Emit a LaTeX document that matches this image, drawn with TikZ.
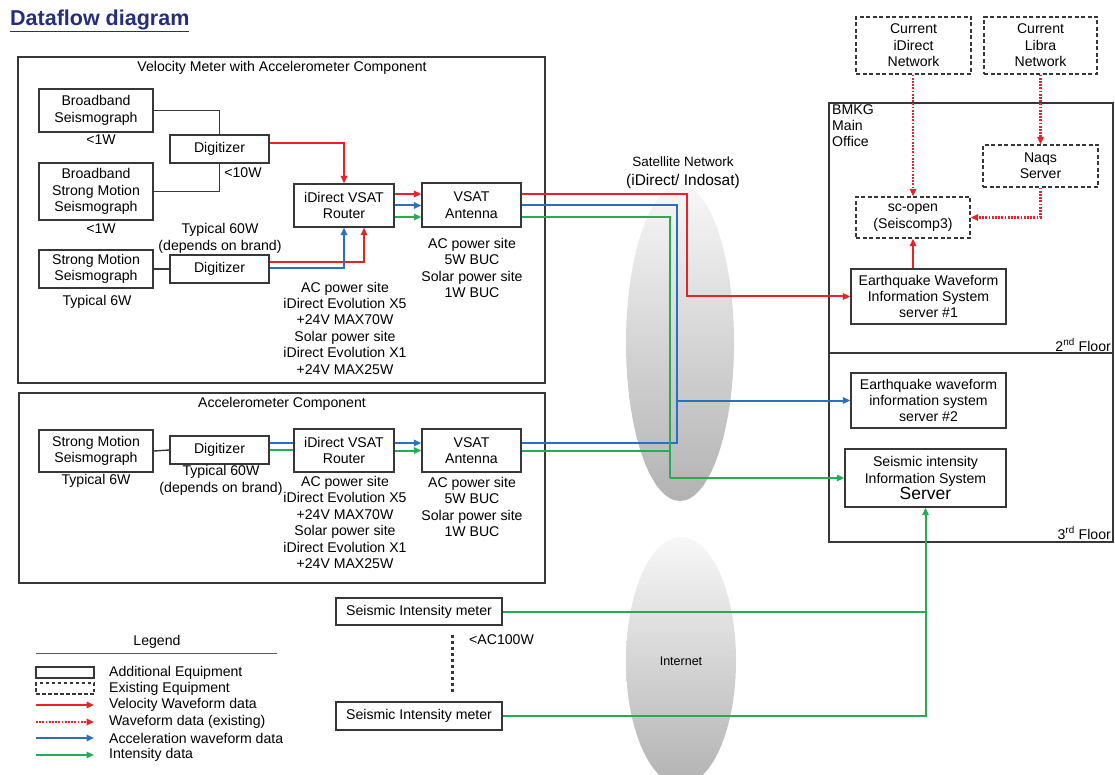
\documentclass[tikz,border=0pt]{standalone}
\usepackage{fontspec}
\setmainfont{Liberation Sans}
\usetikzlibrary{arrows.meta,calc,shapes.geometric}

\definecolor{velred}{RGB}{234,34,40}
\definecolor{accblue}{RGB}{42,112,192}
\definecolor{intgreen}{RGB}{38,172,84}
\definecolor{titleblue}{RGB}{36,46,122}
\definecolor{boxc}{RGB}{55,55,55}

\newcommand\fsz[2]{\fontsize{#1pt}{#2pt}\selectfont}

\begin{document}
\begin{tikzpicture}[x=1pt,y=-1pt,
  box/.style={draw=boxc, line width=1.4pt, fill=white, align=center, inner sep=0pt, font=\fsz{14.1}{16.4}},
  exbox/.style={box, dash pattern=on 4pt off 2.5pt},
  frame/.style={draw=boxc, line width=1.4pt, inner sep=0pt},
  note/.style={align=center, inner sep=0pt, font=\fsz{14.1}{16.4}},
  link/.style={draw=boxc, line width=1.4pt},
  vel/.style={draw=velred, line width=2pt},
  velx/.style={draw=velred, line width=2.4pt, dash pattern=on 1.8pt off 1.4pt},
  acc/.style={draw=accblue, line width=2pt},
  inten/.style={draw=intgreen, line width=2pt},
  tip/.style={-{Triangle[length=7.5pt,width=6.5pt]}},
  cloud/.style={ellipse, inner sep=0pt, shading=axis, top color=gray!6, middle color=gray!45, bottom color=gray!60}]

\useasboundingbox (0,0) rectangle (1115,775);

% title
\node[anchor=west, inner sep=0pt, text=titleblue, font=\fsz{21.5}{23}\bfseries] (title) at (10,21) {\underline{Dataflow diagram}};

% network clouds
\node[cloud, minimum width=108pt, minimum height=316pt] (sat) at (680,343) {};
\begin{scope}
  \clip (0,0) rectangle (1115,775);
  \node[cloud, minimum width=110pt, minimum height=248pt] (net) at (681,661) {};
\end{scope}
\node[note, font=\fsz{12.5}{14}] (netlbl) at (681,661) {Internet};
\node[note, font=\fsz{13.5}{15}] (satlbl1) at (683,162) {Satellite Network};
\node[note, font=\fsz{15.5}{17}] (satlbl2) at (683,181) {(iDirect/ Indosat)};

% ---------------- velocity meter site ----------------
\node[frame, minimum width=527pt, minimum height=326pt] (velframe) at (281.5,220) {};
\node[note] (veltitle) at (282,67.5) {Velocity Meter with Accelerometer Component};

\node[box, minimum width=114pt, minimum height=43pt] (bb) at (96,110.5) {Broadband\\Seismograph};
\node[box, minimum width=99pt, minimum height=28pt] (dig1) at (219.5,149) {Digitizer};
\node[box, minimum width=114pt, minimum height=57pt] (bbsm) at (96,191.5) {Broadband\\Strong Motion\\Seismograph};
\node[box, minimum width=114pt, minimum height=38pt] (sm1) at (96,269) {Strong Motion\\Seismograph};
\node[box, minimum width=99pt, minimum height=28pt] (dig2) at (219.5,269) {Digitizer};
\node[box, minimum width=100pt, minimum height=43pt] (rt1) at (344,205.5) {iDirect VSAT\\Router};
\node[box, minimum width=99pt, minimum height=44pt] (ant1) at (471.5,205) {VSAT\\Antenna};

\node[note] (p1) at (101,140) {<1W};
\node[note] (p2) at (243,173) {<10W};
\node[note] (p3) at (101,229) {<1W};
\node[note] (p4) at (220,238.5) {Typical 60W\\(depends on brand)};
\node[note] (p5) at (97,302) {Typical 6W};
\node[note] (p6) at (345,328) {AC power site\\iDirect Evolution X5\\+24V MAX70W\\Solar power site\\iDirect Evolution X1\\+24V MAX25W};
\node[note] (p7) at (472,268) {AC power site\\5W BUC\\Solar power site\\1W BUC};

\draw[link] (bb.east) -| (dig1.north);
\draw[link] (bbsm.east) -| (dig1.south);
\draw[link] (sm1.east) -- (dig2.west);

\draw[vel, tip] ($(dig1.east)+(0,-6)$) -| (rt1.north);
\draw[vel, tip] ($(dig2.east)+(0,-7)$) -| ($(rt1.south)+(20,0)$);
\draw[acc, tip] ($(dig2.east)+(0,-1)$) -| (rt1.south);
\draw[vel, tip] ($(rt1.east)+(0,-11.5)$) -- ($(ant1.west)+(0,-11)$);
\draw[acc, tip] ($(rt1.east)+(0,0)$) -- ($(ant1.west)+(0,0.5)$);
\draw[inten, tip] ($(rt1.east)+(0,11.5)$) -- ($(ant1.west)+(0,12)$);

% ---------------- accelerometer site ----------------
\node[frame, minimum width=526pt, minimum height=190pt] (accframe) at (282,488) {};
\node[note] (acctitle) at (282,403.5) {Accelerometer Component};

\node[box, minimum width=114pt, minimum height=42pt] (sm2) at (96,451) {Strong Motion\\Seismograph};
\node[box, minimum width=99pt, minimum height=28pt] (dig3) at (219.5,450) {Digitizer};
\node[box, minimum width=100pt, minimum height=43pt] (rt2) at (344,450.5) {iDirect VSAT\\Router};
\node[box, minimum width=99pt, minimum height=43pt] (ant2) at (471.5,450.5) {VSAT\\Antenna};

\node[note] (q1) at (96,481) {Typical 6W};
\node[note] (q2) at (221,480.5) {Typical 60W\\(depends on brand)};
\node[note] (q3) at (345,522.5) {AC power site\\iDirect Evolution X5\\+24V MAX70W\\Solar power site\\iDirect Evolution X1\\+24V MAX25W};
\node[note] (q4) at (472,507) {AC power site\\5W BUC\\Solar power site\\1W BUC};

\draw[link] (sm2.east) -- (dig3.west);
\draw[acc] ($(dig3.east)+(0,-7)$) -- ($(rt2.west)+(0,-7.5)$);
\draw[inten] ($(dig3.east)+(0,0)$) -- ($(rt2.west)+(0,-0.5)$);
\draw[acc, tip] ($(rt2.east)+(0,-7.5)$) -- ($(ant2.west)+(0,-7.5)$);
\draw[inten, tip] ($(rt2.east)+(0,0)$) -- ($(ant2.west)+(0,0)$);

% ---------------- intensity meters ----------------
\node[box, minimum width=166pt, minimum height=27pt] (sim1) at (419,611.5) {Seismic Intensity meter};
\node[box, minimum width=166pt, minimum height=28pt] (sim2) at (419,716) {Seismic Intensity meter};
\coordinate (dt1) at (452,635);
\coordinate (dt2) at (452,693);
\draw[draw=boxc, line width=3pt, dash pattern=on 2.6pt off 3.4pt] (dt1) -- (dt2);
\node[note, anchor=west] (acw) at (469,640) {<AC100W};

% ---------------- main office ----------------
\node[exbox, minimum width=115pt, minimum height=57pt] (idn) at (913.5,45.5) {Current\\iDirect\\Network};
\node[exbox, minimum width=113pt, minimum height=57pt] (lbn) at (1040.5,45.5) {Current\\Libra\\Network};

\node[frame, minimum width=284pt, minimum height=439pt] (bmkg) at (971,322.5) {};
\coordinate (fl) at (829,353);
\draw[link] (fl) -- (fl -| bmkg.east);
\node[note, align=left, anchor=north west] (bmkgl) at (832,104) {BMKG\\Main\\Office};
\node[note, anchor=east] (fl2) at (1111,345) {2\textsuperscript{nd} Floor};
\node[note, anchor=east] (fl3) at (1111,533) {3\textsuperscript{rd} Floor};

\node[exbox, minimum width=115pt, minimum height=42pt] (naqs) at (1040.5,166) {Naqs\\Server};
\node[exbox, minimum width=114pt, minimum height=41pt] (scop) at (913,217.5) {sc-open\\(Seiscomp3)};
\node[box, minimum width=155pt, minimum height=55pt] (ew1) at (928.5,296.5) {Earthquake Waveform\\Information System\\server \#1};
\node[box, minimum width=155pt, minimum height=55pt] (ew2) at (928.5,400.5) {Earthquake waveform\\information system\\server \#2};
\node[box, minimum width=161pt, minimum height=58pt] (siis) at (925.5,478) {Seismic intensity\\Information System\\{\fsz{17.5}{18}Server}};

\draw[velx, tip] (idn.south -| scop.north) -- (scop.north);
\draw[velx, tip] (lbn.south) -- (naqs.north);
\draw[velx, tip] (naqs.south) |- (scop.east);
\draw[vel, tip] (scop.south |- ew1.north) -- (scop.south);

% ---------------- data routes ----------------
\coordinate (rbus) at (687,250);
\coordinate (bbus) at (677,400.5);
\coordinate (gbus) at (670,478);
\draw[vel, tip] ($(ant1.east)+(0,-11)$) -| (rbus) |- (ew1.west);
\draw[acc] ($(ant1.east)+(0,0)$) -| (bbus);
\draw[acc] ($(ant2.east)+(0,-7.5)$) -| (bbus);
\draw[acc, tip] (bbus) -- (ew2.west);
\draw[inten] ($(ant1.east)+(0,12)$) -| (gbus);
\draw[inten] ($(ant2.east)+(0,0.5)$) -| (gbus);
\draw[inten, tip] (gbus) -- (siis.west);

\coordinate (gj) at (siis.south |- sim1.east);
\draw[inten] (sim1.east) -- (gj);
\draw[inten, tip] (sim2.east) -| (siis.south);

% ---------------- legend ----------------
\node[note] (lgt) at (157,642) {Legend};
\coordinate (lg1) at (36,653);
\coordinate (lg2) at (277,653);
\draw[draw=gray!70!black, line width=1pt] (lg1) -- (lg2);
\node[box, minimum width=58pt, minimum height=11pt] (lgbox1) at (65,672.5) {};
\node[exbox, minimum width=58pt, minimum height=11pt, dash pattern=on 3.5pt off 2.5pt] (lgbox2) at (65,688.5) {};
\coordinate (la1) at (36,705); \coordinate (lb1) at (94,705);
\coordinate (la2) at (36,722); \coordinate (lb2) at (94,722);
\coordinate (la3) at (36,738); \coordinate (lb3) at (94,738);
\coordinate (la4) at (36,755); \coordinate (lb4) at (94,755);
\draw[vel, tip] (la1) -- (lb1);
\draw[velx, tip] (la2) -- (lb2);
\draw[acc, tip] (la3) -- (lb3);
\draw[inten, tip] (la4) -- (lb4);
\node[note, anchor=west] (lt1) at (109,673) {Additional Equipment};
\node[note, anchor=west] (lt2) at (109,689) {Existing Equipment};
\node[note, anchor=west] (lt3) at (109,705) {Velocity Waveform data};
\node[note, anchor=west] (lt4) at (109,722) {Waveform data (existing)};
\node[note, anchor=west] (lt5) at (109,738) {Acceleration waveform data};
\node[note, anchor=west] (lt6) at (109,755) {Intensity data};

\end{tikzpicture}
\end{document}
